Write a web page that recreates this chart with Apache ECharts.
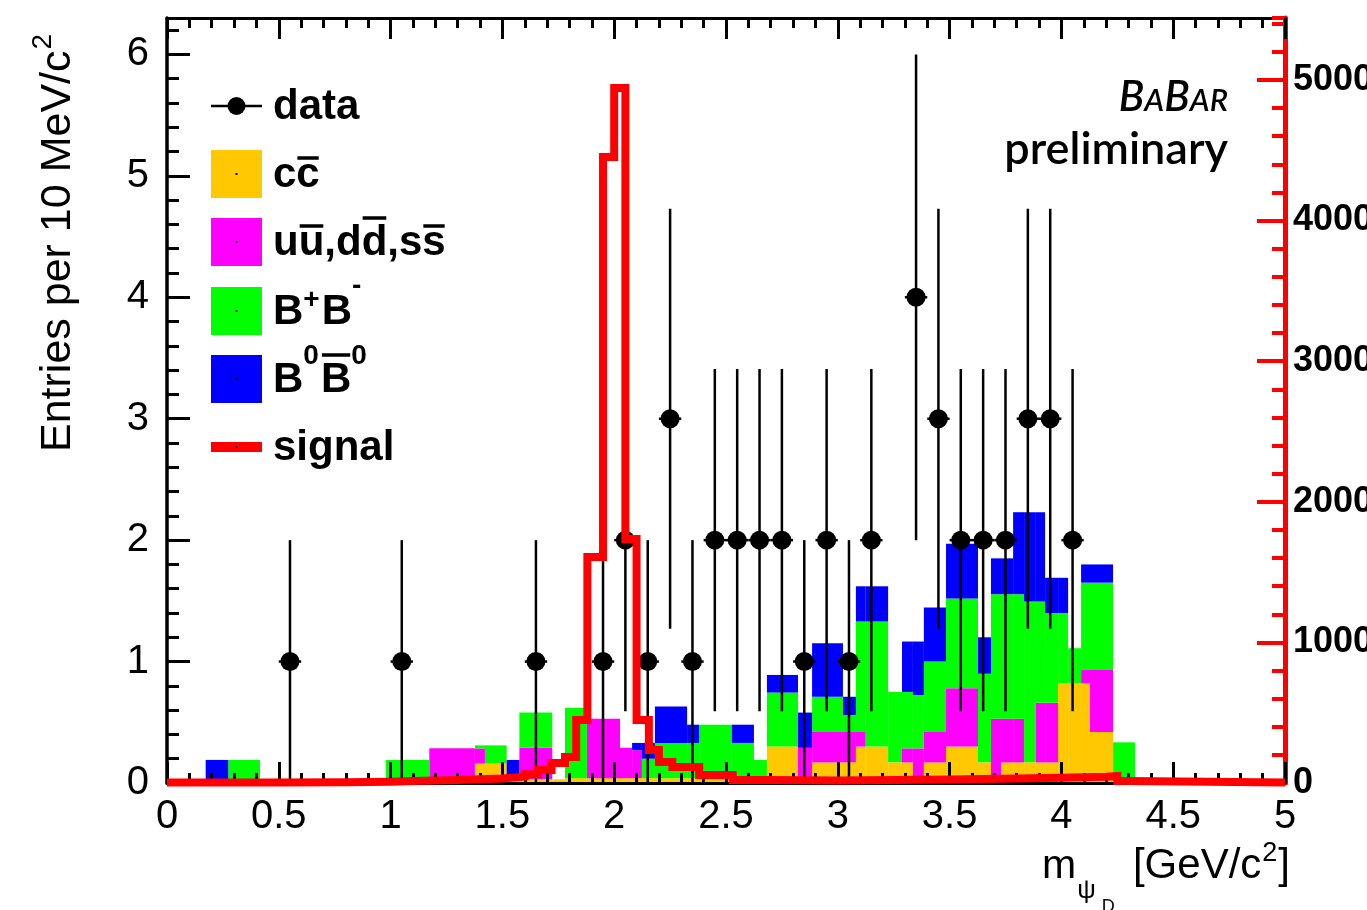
<!DOCTYPE html>
<html><head><meta charset="utf-8">
<script src="https://cdn.jsdelivr.net/npm/echarts@6/dist/echarts.min.js"></script>
<style>html,body{margin:0;padding:0;background:#fff}#c{width:1367px;height:910px}</style>
</head><body><div id="c"></div>
<script>
// ---------------- data ----------------
// stacked background histogram segments [segLo, segHi] in GeV/c^2
const segLo = [0.173,0.274,0.978,1.173,1.377,1.422,1.519,1.576,1.723,1.780,1.878,2.026,2.080,2.124,2.182,2.326,2.380,2.526,2.625,2.683,2.822,2.885,3.023,3.081,3.125,3.225,3.287,3.336,3.385,3.484,3.627,3.685,3.730,3.784,3.833,3.886,3.927,3.985,4.030,4.088,4.128,4.231];
const segHi = [0.274,0.416,1.173,1.377,1.422,1.519,1.576,1.723,1.780,1.878,2.026,2.080,2.124,2.182,2.326,2.380,2.526,2.625,2.683,2.822,2.885,3.023,3.081,3.125,3.225,3.287,3.336,3.385,3.484,3.627,3.685,3.730,3.784,3.833,3.886,3.927,3.985,4.030,4.088,4.128,4.231,4.329];
const ccbar  = [0,0,0,0,0.16,0.16,0.03,0.03,0.03,0.04,0.04,0.04,0.04,0.04,0.04,0.04,0.04,0.04,0.04,0.30,0.05,0.17,0.17,0.30,0.30,0.17,0.17,0.02,0.17,0.30,0.17,0.04,0.17,0.17,0.17,0.17,0.17,0.82,0.82,0.82,0.42,0.02];
const udsbar = [0,0,0,0.286,0.125,0,0,0.26,0,0,0.49,0.25,0.23,0,0,0,0,0,0,0,0.24,0.25,0.25,0.12,0,0,0.115,0.265,0.25,0.48,0,0.49,0.36,0.36,0,0.49,0.49,0,0,0.11,0.51,0];
const bpbm   = [0,0.19,0.19,0,0.025,0.15,0,0.29,0,0.58,0,0,0,0.16,0.29,0.29,0.44,0.29,0.15,0.445,0,0.29,0.14,0.91,1.03,0.58,0.465,0.44,0.58,0.74,0.73,1.025,1.025,1.025,1.325,0.835,0.74,0.58,0.29,0.72,0.72,0.315];
const b0b0   = [0.19,0,0,0,0,0,0.16,0,0,0,0,0,0.06,0.13,0.30,0.15,0,0.15,0,0.145,0.29,0.44,0.15,0.29,0.29,0,0.415,0.44,0.445,0.45,0.30,0.295,0.295,0.675,0.735,0.735,0.29,0.29,0,0.15,0.15,0];

// data points
const dataX   = [0.55,1.05,1.65,1.95,2.05,2.15,2.25,2.35,2.45,2.55,2.65,2.75,2.85,2.95,3.05,3.15,3.35,3.45,3.55,3.65,3.75,3.85,3.95,4.05];
const dataY   = [1,1,1,1,2,1,3,1,2,2,2,2,1,2,1,2,4,3,2,2,2,3,3,2];
const dataErr = [1,1,1,1,1.41,1,1.73,1,1.41,1.41,1.41,1.41,1,1.41,1,1.41,2,1.73,1.41,1.41,1.41,1.73,1.73,1.41];
const binHalfWidth = 0.05;

// signal (right axis), bin edges and contents
const sigEdges = [0,0.5,0.8,1.0,1.1,1.2,1.3,1.4,1.5,1.6,1.66,1.72,1.78,1.83,1.88,1.95,2.0,2.05,2.1,2.155,2.2,2.26,2.38,2.53,2.71,3.0,3.5,3.8,4.0,4.2,4.25,4.3,5.0];
const sigVal   = [3,6,9,14,17,21,26,32,45,62,92,142,185,448,1607,4452,4943,1735,448,235,150,114,57,21,18,25,32,38,45,50,14,3];

const legendNames = ['data','cc\u0304','u\u016b,dd\u0304,ss\u0304','B+B-','B0B0bar','signal'];
const colors = {cc:'#ffc800', uds:'#ff00ff', bp:'#00ff00', b0:'#0000ff', sig:'#ff0000'};

// ---------------- build ----------------
const FONT = '"Liberation Sans", Arial, Helvetica, sans-serif';
const chart = echarts.init(document.getElementById('c'), null, {renderer:'canvas'});

const comps = [ccbar, udsbar, bpbm, b0b0];
function stackData(k){
  return segLo.map((lo,i)=>{
    let base = 0; for (let j=0;j<k;j++) base += comps[j][i];
    return [lo, segHi[i], base, base + comps[k][i]];
  });
}
function rectItem(color){
  return function(params, api){
    const lo=api.value(0), hi=api.value(1), b=api.value(2), t=api.value(3);
    if (t - b <= 0) return null;
    const p0 = api.coord([lo, t]), p1 = api.coord([hi, b]);
    return {type:'rect', shape:{x:p0[0], y:p0[1], width:p1[0]-p0[0], height:p1[1]-p0[1]}, style:{fill:color}};
  };
}
const sigPts = [];
for (let i=0;i<sigVal.length;i++){ sigPts.push([sigEdges[i], sigVal[i]]); sigPts.push([sigEdges[i+1], sigVal[i]]); }

const errData = dataX.map((x,i)=>[x, dataY[i], dataErr[i]]);
const ptData = dataX.map((x,i)=>[x, dataY[i]]);

// text helpers
const mc = document.createElement('canvas').getContext('2d');
function mw(font, s){ mc.font = font; return mc.measureText(s).width; }
function T(x, base, s, size, o){
  o = o || {};
  const font = (o.style||'normal') + ' ' + (o.weight||'normal') + ' ' + size + 'px ' + (o.family||FONT);
  return {el:{type:'text', z:30, x:0, y:0, style:{x:x, y:base-0.32*size, text:s, font:font, fill:o.color||'#000',
          textAlign:'left', textVerticalAlign:'middle', align:'left', verticalAlign:'middle'}}, w:mw(font, s)};
}
const G = [];
// legend
const SWX = 211, SWW = 51, SWH = 48, TX = 273;
const rowY = [106, 174, 242, 311, 379, 447];
G.push({type:'line', z:30, shape:{x1:SWX, y1:rowY[0], x2:SWX+SWW, y2:rowY[0]}, style:{stroke:'#000', lineWidth:2.5}});
G.push({type:'circle', z:30, shape:{cx:SWX+SWW/2, cy:rowY[0], r:9}, style:{fill:'#000'}});
[colors.cc, colors.uds, colors.bp, colors.b0].forEach((c,i)=>{
  const y = rowY[i+1];
  G.push({type:'rect', z:30, shape:{x:SWX, y:y-SWH/2, width:SWW, height:SWH}, style:{fill:c}});
  G.push({type:'rect', z:31, shape:{x:SWX+SWW/2-1, y:y-1, width:2, height:2}, style:{fill:'#000'}});
});
G.push({type:'rect', z:30, shape:{x:SWX, y:rowY[5]-5, width:SWW, height:10}, style:{fill:colors.sig}});
G.push({type:'rect', z:31, shape:{x:SWX+SWW/2-1, y:rowY[5]-1, width:2, height:2}, style:{fill:'#000'}});

const labelParts = [
  [{t:'data'}],
  [{t:'c'},{t:'c',ov:1}],
  [{t:'u'},{t:'u',ov:1},{t:','},{t:'d'},{t:'d',ov:2},{t:','},{t:'s'},{t:'s',ov:1}],
  [{t:'B'},{t:'+',sup:17},{t:'B'},{t:'-',sup:31}],
  [{t:'B'},{t:'0',sup:29},{t:'B',ov:2},{t:'0',sup:29}],
  [{t:'signal'}]
];
labelParts.forEach((parts,r)=>{
  let x = TX; const base = rowY[r] + 15;
  parts.forEach(p=>{
    if (p.sup){
      const o = T(x, base - p.sup, p.t, 28, {weight:'bold'});
      G.push(o.el); x += o.w + 2;
    } else {
      const o = T(x, base, p.t, 42, {weight:'bold'});
      G.push(o.el);
      if (p.ov){
        const oy = p.ov === 1 ? base - 31 : base - 39;
        G.push({type:'line', z:30, shape:{x1:x+1, y1:oy, x2:x+o.w-1, y2:oy}, style:{stroke:'#000', lineWidth:3.5}});
      }
      x += o.w;
    }
  });
});

// BaBar preliminary
(function(){
  const fam = 'Lato, "Open Sans", sans-serif';
  const pieces = [['B',42],['A',31],['B',42],['AR',31]];
  let total = 0; const fonts = pieces.map(p=>'italic 600 '+p[1]+'px '+fam);
  pieces.forEach((p,i)=> total += mw(fonts[i], p[0]));
  let x = 1228 - total;
  pieces.forEach((p,i)=>{ const o = T(x, 111, p[0], p[1], {style:'italic', weight:600, family:fam}); G.push(o.el); x += o.w; });
  const pf = 'normal 600 45px '+fam; const pw = mw(pf, 'preliminary');
  G.push(T(1228 - pw, 164, 'preliminary', 45, {weight:600, family:fam}).el);
})();

// y title (rotated)
(function(){
  const main = T(0, 0, 'Entries per 10 MeV/c', 43);
  const sup = T(main.w + 1, -20, '2', 28);
  G.push({type:'group', x:72, y:452, rotation:Math.PI/2, children:[main.el, sup.el]});
})();
// x title
(function(){
  const fs = 42;
  const m = T(1042, 880, 'm', 41);
  const psi = T(1042 + m.w + 1, 899, '\u03c8', 26);
  const d = T(1042 + m.w + 1 + psi.w + 6, 913, 'D', 18);
  G.push(m.el, psi.el, d.el);
  const f1 = 'normal normal '+fs+'px '+FONT, f2 = 'normal normal 27px '+FONT;
  const tot = mw(f1,'[GeV/c') + mw(f2,'2') + mw(f1,']') + 2;
  let x = 1290 - tot;
  const a = T(x, 880, '[GeV/c', fs); G.push(a.el); x += a.w + 1;
  const b = T(x, 862, '2', 27); G.push(b.el); x += b.w + 1;
  const c = T(x, 880, ']', fs); G.push(c.el);
})();

const gridRect = {left:167, right:82, top:18, bottom:127, containLabel:false, outerBoundsMode:'none'};
const xBase = {type:'value', min:0, max:5, interval:0.5, splitLine:{show:false}, z:10, gridIndex:0,
  axisLine:{show:true, onZero:false, lineStyle:{color:'#000', width:3}},
  axisTick:{show:true, inside:true, length:21, lineStyle:{color:'#000', width:3}},
  minorTick:{show:true, splitNumber:5, length:10, lineStyle:{color:'#000', width:3}}};
const plain = v => String(v);
const option = {
  animation:false,
  backgroundColor:'#fff',
  grid:[Object.assign({}, gridRect), Object.assign({}, gridRect)],
  xAxis:[
    Object.assign({}, xBase, {position:'bottom', axisLabel:{show:true, color:'#000', fontSize:40, fontFamily:FONT, margin:14, formatter:plain}}),
    Object.assign({}, xBase, {position:'top', axisLabel:{show:false}}),
    {type:'value', gridIndex:1, min:0, max:5, show:false}
  ],
  yAxis:[
    {type:'value', gridIndex:0, position:'left', min:0, max:6.3, interval:1, splitLine:{show:false}, z:10,
     axisLine:{show:true, onZero:false, lineStyle:{color:'#000', width:3.5}},
     axisTick:{show:true, inside:true, length:23, lineStyle:{color:'#000', width:3}},
     axisLabel:{show:true, showMaxLabel:false, color:'#000', fontSize:40, fontFamily:FONT, margin:18, formatter:plain}},
    {type:'value', gridIndex:0, position:'right', min:0, max:5440, interval:1000, splitLine:{show:false}, z:10,
     axisLine:{show:true, onZero:false, lineStyle:{color:'#ff0000', width:5}},
     axisTick:{show:true, inside:true, length:28, lineStyle:{color:'#ff0000', width:4}},
     axisLabel:{show:true, showMaxLabel:false, color:'#000', fontSize:36, fontWeight:'bold', fontFamily:FONT, margin:8, formatter:plain}},
    {type:'value', gridIndex:1, position:'left', min:0, max:6.3, interval:0.2, splitLine:{show:false}, z:10,
     axisLine:{show:false}, axisTick:{show:true, inside:true, length:12, lineStyle:{color:'#000', width:3}}, axisLabel:{show:false}},
    {type:'value', gridIndex:1, position:'right', min:0, max:5440, interval:200, splitLine:{show:false}, z:10,
     axisLine:{show:false}, axisTick:{show:true, inside:true, length:13, lineStyle:{color:'#ff0000', width:4}}, axisLabel:{show:false}}
  ],
  series:[
    {name:legendNames[1], type:'custom', z:2, renderItem:rectItem(colors.cc),  data:stackData(0), encode:{x:[0,1], y:[2,3]}},
    {name:legendNames[2], type:'custom', z:2, renderItem:rectItem(colors.uds), data:stackData(1), encode:{x:[0,1], y:[2,3]}},
    {name:legendNames[3], type:'custom', z:2, renderItem:rectItem(colors.bp),  data:stackData(2), encode:{x:[0,1], y:[2,3]}},
    {name:legendNames[4], type:'custom', z:2, renderItem:rectItem(colors.b0),  data:stackData(3), encode:{x:[0,1], y:[2,3]}},
    {name:legendNames[0]+' errors', type:'custom', z:11, data:errData, encode:{x:0, y:1},
     renderItem:function(params, api){
       const x=api.value(0), y=api.value(1), e=api.value(2);
       const t=api.coord([x,y+e]), b=api.coord([x,y-e]), l=api.coord([x-binHalfWidth,y]), r=api.coord([x+binHalfWidth,y]);
       return {type:'group', children:[
         {type:'line', shape:{x1:t[0], y1:t[1], x2:b[0], y2:b[1]}, style:{stroke:'#000', lineWidth:2.5}},
         {type:'line', shape:{x1:l[0], y1:l[1], x2:r[0], y2:r[1]}, style:{stroke:'#000', lineWidth:2.5}}]};
     }},
    {name:legendNames[0], type:'scatter', z:11, data:ptData, symbol:'circle', symbolSize:19, itemStyle:{color:'#000', opacity:1}},
    {name:legendNames[5], type:'line', z:12, yAxisIndex:1, data:sigPts, showSymbol:false, symbol:'none', clip:false,
     lineStyle:{color:colors.sig, width:8, join:'miter'}}
  ],
  graphic:G
};
chart.setOption(option);
</script></body></html>
